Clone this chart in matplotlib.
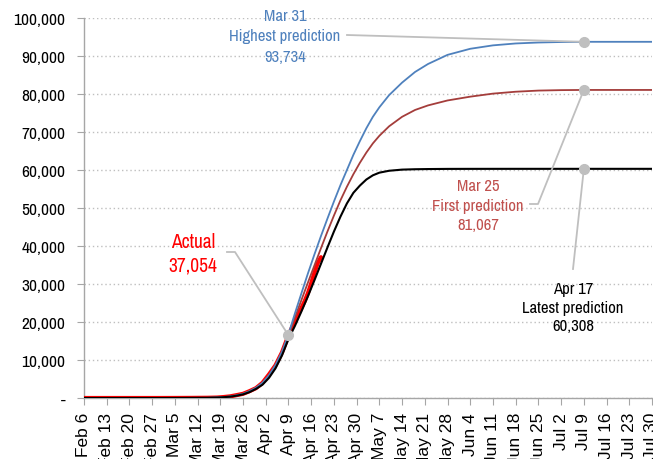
import matplotlib
matplotlib.use("Agg")
import matplotlib.pyplot as plt
import matplotlib.dates as mdates
import pandas as pd

plt.rcParams['font.family'] = ['Archivo Narrow', 'Liberation Sans', 'DejaVu Sans']

# ---------------- data ----------------
actual_dates = ["2020-02-06", "2020-02-29", "2020-03-05", "2020-03-10", "2020-03-15",
                "2020-03-18", "2020-03-20", "2020-03-22", "2020-03-24", "2020-03-26",
                "2020-03-28", "2020-03-30", "2020-04-01", "2020-04-03", "2020-04-05",
                "2020-04-07", "2020-04-09", "2020-04-11", "2020-04-13", "2020-04-14",
                "2020-04-15", "2020-04-16", "2020-04-17", "2020-04-18", "2020-04-19"]
actual_vals = [0, 1, 11, 28, 60, 118, 250, 430, 750, 1100, 1800, 2600, 4000, 6200,
               8600, 12000, 16500, 20300, 23700, 25500, 27600, 30200, 33000, 35500, 37054]

pred_dates = ["2020-02-06", "2020-03-01", "2020-03-15", "2020-03-19", "2020-03-22",
              "2020-03-24", "2020-03-26", "2020-03-28", "2020-03-30", "2020-04-01",
              "2020-04-03", "2020-04-05", "2020-04-07", "2020-04-09", "2020-04-11",
              "2020-04-13", "2020-04-15", "2020-04-17", "2020-04-19", "2020-04-21",
              "2020-04-23", "2020-04-25", "2020-04-27", "2020-04-29", "2020-05-01",
              "2020-05-03", "2020-05-05", "2020-05-07", "2020-05-10", "2020-05-14",
              "2020-05-18", "2020-05-22", "2020-05-28", "2020-06-04", "2020-06-11",
              "2020-06-18", "2020-06-25", "2020-07-02", "2020-07-09", "2020-07-30"]
highest_vals = [0, 0, 50, 170, 400, 700, 1100, 1800, 2700, 4000,
                6000, 8700, 12200, 16800, 22300, 27600, 32800, 37800, 42600, 47200,
                51700, 56000, 60000, 64000, 67600, 71000, 74000, 76500, 79700, 83000,
                85800, 87900, 90300, 91900, 92800, 93300, 93550, 93680, 93734, 93734]
first_vals = [0, 0, 50, 170, 400, 700, 1100, 1800, 2700, 4000,
              6000, 8600, 12000, 16500, 21200, 25800, 30400, 34900, 39400, 43800,
              48000, 52000, 55600, 58900, 61900, 64600, 67000, 69000, 71500, 74000,
              75800, 77000, 78300, 79300, 80100, 80600, 80900, 81020, 81067, 81067]
latest_vals = [0, 0, 50, 150, 350, 600, 950, 1550, 2400, 3500,
               5300, 7800, 11200, 15500, 19000, 22800, 26800, 31000, 35300, 39600,
               43800, 47700, 51200, 54000, 55900, 57500, 58600, 59300, 59800, 60100,
               60200, 60250, 60290, 60300, 60305, 60308, 60308, 60308, 60308, 60308]

y_ticks = [0, 10000, 20000, 30000, 40000, 50000, 60000, 70000, 80000, 90000, 100000]
y_labels = ["-", "10,000", "20,000", "30,000", "40,000", "50,000", "60,000",
            "70,000", "80,000", "90,000", "100,000"]

# ---------------- figure ----------------
W, H = 653, 460
fig = plt.figure(figsize=(W / 100, H / 100), dpi=100)
ax = fig.add_axes([84 / W, (H - 399) / H, (652 - 84) / W, (399 - 19) / H])

ad = pd.to_datetime(actual_dates)
pdts = pd.to_datetime(pred_dates)

c_blue = "#4F81BD"
c_brown = "#A43D3B"
c_brown_txt = "#C0504D"
c_red = "#FF0000"
c_grey = "#BFBFBF"

ax.plot(ad, actual_vals, color=c_red, lw=3.0, solid_capstyle="round",
        solid_joinstyle="round", zorder=3)
ax.plot(pdts, first_vals, color=c_brown, lw=1.3, zorder=4)
ax.plot(pdts, highest_vals, color=c_blue, lw=1.3, zorder=5)
ax.plot(pdts, latest_vals, color="black", lw=1.5, zorder=6)

x0 = pd.Timestamp("2020-02-06")
x1 = pd.Timestamp("2020-07-30")
ax.set_xlim(x0, x1)
ax.set_ylim(0, 100000)

ax.set_yticks(y_ticks)
ax.set_yticklabels(y_labels)
xt = pd.date_range("2020-02-06", "2020-07-30", freq="7D")
ax.set_xticks(xt)
ax.set_xticklabels([f"{d:%b} {d.day}" for d in xt], rotation=90,
                   family=['Liberation Sans', 'DejaVu Sans'], fontsize=12.5)

ax.grid(axis="y", color=c_grey, ls=(0, (1, 2)), lw=1.0)
ax.set_axisbelow(True)
for s in ["top", "right"]:
    ax.spines[s].set_visible(False)
for s in ["left", "bottom"]:
    ax.spines[s].set_color("#A6A6A6")
    ax.spines[s].set_linewidth(1.0)
ax.tick_params(axis="both", colors="#A6A6A6", labelcolor="black", length=5,
               direction="out")
ax.tick_params(axis="y", pad=8.5, labelsize=12.5)
ax.tick_params(axis="x", pad=5)

# ---------------- annotations ----------------
fig.canvas.draw()

def px2data(px, py):
    inv = ax.transData.inverted()
    return inv.transform((px, H - py))

def data2px(date, val):
    x, y = ax.transData.transform((mdates.date2num(pd.Timestamp(date)), val))
    return x, H - y

def dot(date, val):
    ax.plot(pd.Timestamp(date), val, "o", color=c_grey, ms=7, zorder=10, clip_on=False)

def leader(points):
    xs = [mdates.num2date(px2data(p[0], p[1])[0]) for p in points]
    ys = [px2data(p[0], p[1])[1] for p in points]
    ax.plot(xs, ys, color=c_grey, lw=1.3, zorder=9, clip_on=False)

def label(px, py, text, color, size=12, ls=1.45):
    fig.text(px / W, 1 - py / H, text, color=color, fontsize=size, ha="center",
             va="center", linespacing=ls)

# highest prediction
label(285, 37, "Mar 31\nHighest prediction\n93,734", c_blue)
leader([(347, 36), data2px("2020-07-09", 93734)])
dot("2020-07-09", 93734)

# first prediction
label(478, 206, "Mar 25\nFirst prediction\n81,067", c_brown_txt, ls=1.35)
leader([(530, 205), (538, 205), data2px("2020-07-09", 81067)])
dot("2020-07-09", 81067)

# latest prediction
label(573, 308, "Apr 17\nLatest prediction\n60,308", "black", ls=1.3)
leader([(573, 270), data2px("2020-07-09", 60308)])
dot("2020-07-09", 60308)

# actual
label(193, 254, "Actual\n37,054", c_red, size=14, ls=1.3)
leader([(227, 253), (235, 253), data2px("2020-04-09", 16500)])
dot("2020-04-09", 16500)

fig.savefig("out.png", dpi=100)
